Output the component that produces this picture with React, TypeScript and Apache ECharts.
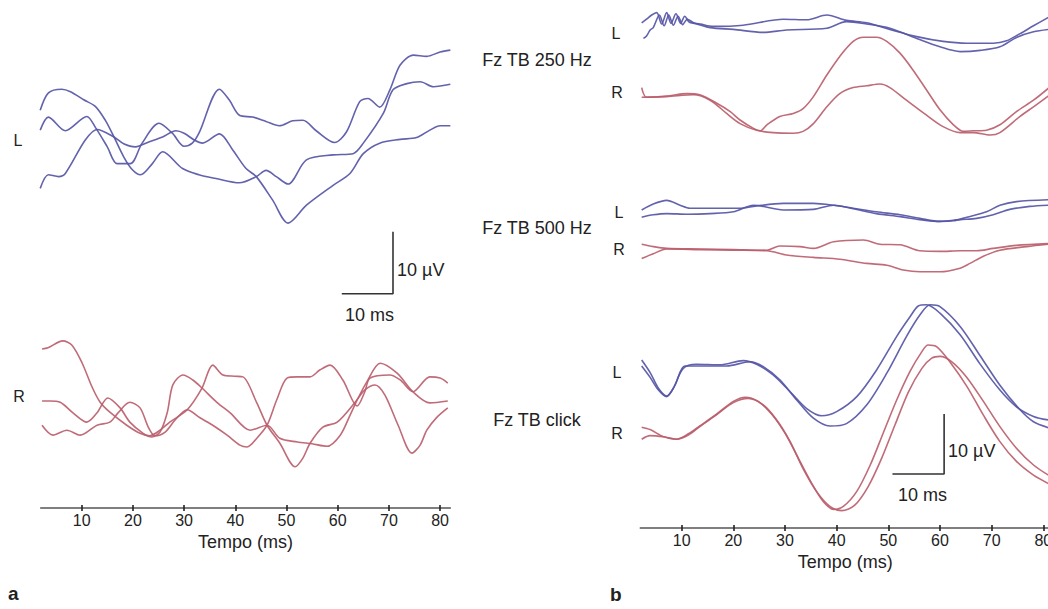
import React, { useEffect, useRef } from 'react';
import * as echarts from 'echarts';

// ---------- data (time in ms, amplitude in µV, channel baselines included) ----------
const timeTicks = [10, 20, 30, 40, 50, 60, 70, 80];

// Panel a – left ear (L), three sweeps
const aL1 = [[1.9,64.8],[3.5,67.6],[6.1,68.2],[7.8,67.8],[10.4,66.5],[12.7,65.4],[14.6,63.2],[16.3,60.5],[18.2,57.3],[19.9,55.2],[21.5,54.4],[23.8,56.2],[25.8,58.1],[29.7,55.4],[32.9,54.4],[36.2,53.8],[40.8,53.1],[44.1,54.1],[46.0,55.1],[48.0,54.1],[50.3,52.9],[53.9,56.8],[59.1,57.6],[63.0,57.8],[65.0,59.5],[68.9,64.3],[70.8,68.1],[73.5,69.1],[76.1,69.4],[78.7,68.6],[82.0,69.0]];
const aL2 = [[1.9,61.6],[3.5,63.7],[6.8,61.5],[11.0,63.8],[12.7,62.0],[15.0,58.9],[16.9,56.2],[19.5,56.2],[21.8,59.5],[25.1,62.7],[27.7,61.1],[30.0,59.0],[31.6,59.5],[32.9,61.1],[36.9,68.2],[38.8,66.5],[40.8,64.0],[43.4,63.7],[46.0,63.0],[48.6,62.3],[51.2,63.1],[53.2,63.2],[55.8,61.5],[59.4,59.6],[61.7,61.3],[64.3,66.2],[65.9,66.7],[68.2,65.3],[70.2,68.1],[72.2,72.1],[74.8,73.7],[77.4,73.5],[80.0,74.2],[82.0,74.5]];
const aL3 = [[1.9,52.2],[3.5,54.4],[5.5,54.1],[6.8,54.6],[10.7,60.0],[13.0,61.7],[16.3,60.5],[18.2,59.4],[20.5,58.9],[23.1,59.7],[25.8,60.5],[28.4,61.5],[30.0,61.1],[32.0,60.0],[33.6,59.5],[36.9,61.0],[39.5,58.4],[42.1,55.4],[44.1,54.1],[47.3,50.3],[50.3,46.6],[53.9,49.5],[59.1,52.7],[62.4,54.6],[65.0,57.8],[68.2,59.5],[72.2,60.1],[75.4,60.4],[78.0,61.6],[80.0,62.3],[82.0,62.3]];

// Panel a – right ear (R), three sweeps
const aR1 = [[2.25,26.3],[3.4,26.5],[6.3,27.6],[8.1,26.9],[10.1,24.0],[12.0,20.2],[13.6,17.7],[15.5,16.1],[18.8,14.0],[21.4,12.7],[23.3,12.3],[25.3,13.2],[27.2,14.5],[30.6,16.5],[33.5,20.0],[35.6,23.7],[37.6,22.1],[39.9,21.9],[41.5,21.8],[44.2,17.6],[46.2,14.0],[48.7,11.1],[51.7,7.3],[53.2,8.7],[54.6,11.1],[57.1,13.7],[59.9,14.5],[63.4,17.7],[65.3,19.7],[67.3,20.5],[69.2,18.9],[71.8,14.0],[74.5,9.5],[76.1,10.8],[77.4,13.2],[79.4,15.3],[81.5,16.8]];
const aR2 = [[2.25,17.9],[3.8,17.9],[5.8,17.7],[8.3,16.0],[11.0,14.5],[13.0,16.0],[15.1,18.4],[17.5,16.8],[19.4,14.5],[22.0,12.7],[23.7,12.1],[25.3,12.9],[26.7,16.0],[27.8,20.5],[29.8,22.1],[31.7,21.3],[33.5,20.0],[36.4,17.7],[39.0,16.0],[42.9,13.2],[46.2,14.0],[48.7,11.9],[52.1,11.3],[55.0,11.0],[57.9,10.6],[60.5,12.4],[62.4,15.6],[64.0,18.4],[65.7,21.0],[68.3,24.0],[71.6,22.4],[74.7,19.4],[78.0,17.6],[81.5,17.9]];
const aR3 = [[2.25,14.0],[4.4,12.4],[7.1,13.2],[9.7,12.4],[13.0,14.0],[15.5,14.5],[17.1,16.0],[19.4,17.7],[21.4,16.8],[23.0,13.7],[24.3,12.3],[26.3,12.9],[28.2,14.8],[30.6,16.5],[33.1,15.2],[35.6,14.0],[38.4,12.4],[40.9,10.8],[42.3,10.5],[44.2,11.9],[46.2,14.0],[48.1,18.1],[50.1,21.6],[52.1,21.8],[54.6,21.8],[56.5,22.9],[58.5,23.7],[61.0,21.3],[63.8,17.1],[65.3,19.4],[66.3,21.6],[70.2,22.1],[72.2,21.3],[74.7,19.4],[78.0,21.8],[80.0,21.6],[81.5,20.8]];

// Panel b – Fz TB 250 Hz
const b250L1 = [[2.26,84.2],[3.2,84.8],[4.2,85.5],[5.17,85.9],[6.13,84.0],[7.1,85.9],[7.94,84.1],[8.9,85.7],[9.8,84.1],[10.6,85.3],[11.5,84.3],[13.6,84.0],[16.1,83.6],[21.9,83.8],[29.7,84.8],[34.2,84.7],[38.1,85.5],[41.9,84.6],[45.8,84.2],[50.3,83.1],[55.5,81.9],[60.6,81.1],[65.2,80.8],[70.3,80.8],[72.9,81.2],[75.5,82.4],[78.1,83.7],[81.0,85.1]];
const b250L2 = [[2.6,81.6],[3.2,82.0],[3.9,83.0],[4.5,83.4],[5.7,85.5],[6.6,83.7],[7.5,85.5],[8.4,83.8],[9.3,85.3],[10.2,83.9],[11.1,84.8],[12.3,84.2],[15.5,83.4],[20.0,83.1],[25.8,82.6],[30.3,83.0],[38.1,83.3],[41.9,84.4],[45.8,84.0],[50.3,83.3],[55.5,81.6],[60.0,80.2],[63.9,79.4],[67.8,79.6],[71.6,80.2],[74.9,81.8],[78.1,82.7],[81.0,83.1]];
const b250R1 = [[2.26,73.4],[3.2,71.8],[7.1,72.0],[11.0,72.4],[13.5,72.2],[16.8,70.8],[19.4,69.4],[21.3,68.0],[23.9,66.6],[25.2,66.2],[26.5,67.2],[29.0,68.6],[31.6,69.1],[33.5,69.9],[35.5,71.9],[38.1,75.5],[40.6,78.6],[43.2,81.1],[45.2,81.8],[47.7,81.8],[49.7,81.1],[52.3,79.1],[54.8,76.3],[57.4,73.0],[60.0,69.7],[62.6,67.2],[64.5,66.1],[66.5,66.2],[69.0,66.3],[71.6,67.2],[74.8,69.4],[78.1,71.3],[81.0,73.3]];
const b250R2 = [[2.26,71.8],[7.1,71.9],[12.3,72.2],[15.5,71.3],[18.7,69.1],[21.3,67.4],[24.5,66.3],[27.7,65.9],[31.6,65.8],[33.5,66.1],[35.5,67.4],[38.1,70.2],[40.6,72.4],[43.2,73.4],[45.8,73.7],[48.4,74.0],[50.3,73.4],[53.5,71.3],[57.4,68.8],[60.6,66.9],[63.9,65.9],[66.5,65.9],[69.7,65.5],[71.6,65.9],[75.5,68.6],[78.1,70.2],[81.0,72.0]];

// Panel b – Fz TB 500 Hz
const b500L1 = [[2.26,53.0],[4.5,54.0],[7.1,54.6],[9.7,53.8],[11.6,53.3],[15.5,53.3],[21.3,53.3],[23.9,53.6],[29.7,54.1],[35.5,54.1],[39.4,53.8],[43.2,53.3],[47.7,52.7],[52.3,52.2],[56.1,51.6],[60.0,51.1],[62.6,51.2],[65.2,51.8],[69.0,52.7],[71.6,53.8],[74.8,54.4],[81.0,54.7]];
const b500L2 = [[2.26,51.8],[4.5,52.2],[7.1,52.4],[11.0,52.3],[15.5,52.4],[20.0,52.7],[23.9,53.8],[29.7,53.0],[35.5,53.1],[39.4,53.8],[43.2,53.2],[47.7,52.4],[52.3,51.9],[56.1,51.4],[60.0,51.1],[63.9,51.4],[67.1,51.6],[70.3,52.2],[73.5,53.1],[77.4,53.6],[81.0,53.8]];
const b500R1 = [[2.26,47.3],[4.5,46.9],[7.1,46.6],[13.5,46.5],[20.0,46.4],[26.5,46.3],[29.0,47.0],[32.9,46.9],[35.5,46.6],[39.4,47.7],[45.2,48.0],[48.4,47.3],[52.3,47.2],[56.1,46.2],[60.0,46.1],[63.9,46.2],[67.1,46.2],[70.3,46.6],[74.8,47.1],[81.0,47.4]];
const b500R2 = [[2.26,44.9],[4.5,45.7],[7.1,46.5],[13.5,46.4],[20.0,46.3],[26.5,46.2],[30.3,45.5],[35.5,45.1],[40.6,44.8],[45.8,44.1],[49.7,43.8],[52.9,43.0],[56.1,42.7],[60.0,42.7],[63.9,43.3],[65.8,44.1],[68.4,45.3],[71.6,46.3],[76.8,46.9],[81.0,47.3]];

// Panel b – Fz TB click
const bClkL1 = [[2.26,28.0],[3.9,25.9],[5.5,23.3],[7.1,22.0],[8.4,23.3],[10.3,26.6],[12.9,27.3],[17.4,27.2],[21.9,27.9],[24.5,27.3],[27.7,25.5],[31.0,22.7],[34.2,19.9],[37.1,18.7],[40.0,19.4],[43.9,21.9],[47.7,26.3],[51.6,31.9],[54.2,35.2],[55.8,37.0],[57.4,37.2],[60.0,35.8],[63.9,32.2],[67.7,27.4],[71.6,23.0],[74.8,20.2],[78.1,18.6],[81.0,18.0]];
const bClkL2 = [[2.26,27.0],[3.9,25.1],[5.5,23.0],[7.1,21.9],[8.7,23.8],[10.6,27.0],[13.5,27.0],[18.7,27.0],[23.2,27.7],[25.8,26.9],[29.0,24.7],[32.3,21.3],[35.5,18.3],[38.7,17.0],[41.9,17.4],[45.8,20.5],[49.7,25.8],[53.5,31.9],[56.1,35.5],[58.1,37.2],[60.0,36.9],[63.9,33.6],[67.7,28.8],[71.6,23.8],[75.5,19.7],[78.1,17.7],[81.0,16.7]];
const bClkR1 = [[2.26,16.8],[3.9,16.4],[6.5,15.2],[9.0,14.8],[11.3,15.7],[13.5,17.0],[16.8,19.0],[20.0,21.1],[22.3,21.8],[24.8,21.1],[27.4,19.0],[30.0,15.8],[32.6,11.6],[35.2,7.4],[37.4,4.4],[39.4,3.1],[41.3,3.6],[43.9,6.1],[46.5,10.5],[49.0,15.8],[51.6,21.3],[54.2,26.1],[56.5,29.4],[57.7,30.5],[59.4,30.2],[61.9,27.7],[65.2,23.6],[68.4,18.8],[71.6,14.4],[74.8,11.1],[78.1,8.8],[81.0,7.4]];
const bClkR2 = [[2.26,14.8],[3.9,15.4],[6.5,15.2],[9.0,14.8],[11.3,15.5],[13.5,16.9],[16.8,18.9],[20.0,20.9],[22.9,21.6],[25.8,20.5],[28.4,18.0],[31.0,14.4],[33.5,9.9],[36.1,6.1],[38.7,3.6],[41.0,2.9],[43.5,3.8],[46.1,6.9],[48.7,11.6],[51.3,17.2],[53.9,22.7],[56.5,26.6],[58.4,28.3],[60.0,28.6],[62.3,27.7],[65.2,25.1],[68.4,21.1],[71.6,16.9],[74.8,13.3],[78.1,10.5],[81.0,8.8]];

// Calibration bars: 10 ms × 10 µV (corner time, corner amplitude)
const aScaleBar = [[60.8,35.2],[70.8,35.2],[70.8,45.2]];
const bScaleBar = [[50.8,9.0],[60.8,9.0],[60.8,19.0]];

// ---------- styling ----------
const BLUE = '#5555a6';
const RED = '#bb5e6c';
const FONT = '"Liberation Sans", Arial, Helvetica, sans-serif';
const TXT = '#222';

function trace(data: number[][], color: string, grid: number) {
  return {
    type: 'line',
    xAxisIndex: grid * 2,
    yAxisIndex: grid,
    data,
    smooth: 0.3,
    symbol: 'none',
    showSymbol: false,
    silent: true,
    lineStyle: { color, width: 1.6, opacity: 0.92 },
    z: 3,
  };
}

function bar(data: number[][], grid: number) {
  return {
    type: 'line',
    xAxisIndex: grid * 2,
    yAxisIndex: grid,
    data,
    smooth: false,
    symbol: 'none',
    silent: true,
    lineStyle: { color: '#333', width: 1.6 },
    z: 4,
  };
}

function timeAxis(gridIndex: number, min: number, max: number) {
  return {
    type: 'value',
    gridIndex,
    min,
    max,
    position: 'bottom',
    axisLine: { show: true, onZero: false, lineStyle: { color: '#555', width: 1.6 } },
    axisTick: { show: true, customValues: timeTicks, length: 3, lineStyle: { color: '#222', width: 1.6 } },
    axisLabel: { customValues: timeTicks, fontSize: 16, color: TXT, fontFamily: FONT, margin: 4, hideOverlap: false },
    splitLine: { show: false },
    name: 'Tempo (ms)',
    nameLocation: 'middle',
    nameGap: 25,
    nameTextStyle: { fontSize: 18, color: TXT, fontFamily: FONT },
  };
}

function innerTicks(gridIndex: number, min: number, max: number) {
  return {
    type: 'value',
    gridIndex,
    min,
    max,
    position: 'bottom',
    axisLine: { show: false, onZero: false },
    axisTick: { show: true, inside: true, customValues: timeTicks, length: 3, lineStyle: { color: '#222', width: 1.6 } },
    axisLabel: { show: false },
    splitLine: { show: false },
  };
}

function label(text: string, x: number, y: number, size = 16, align = 'center', weight = 'normal') {
  return {
    type: 'text',
    x,
    y,
    silent: true,
    style: {
      text,
      fill: TXT,
      font: `${weight} ${size}px ${FONT}`,
      textAlign: align,
      textVerticalAlign: 'middle',
    },
  };
}

export default function App() {
  const ref = useRef<HTMLDivElement>(null);

  useEffect(() => {
    document.body.style.margin = '0';
    if (!ref.current) return;
    const chart = echarts.init(ref.current, null, { renderer: 'svg' });

    const option = {
      animation: false,
      backgroundColor: '#ffffff',
      grid: [
        { left: 40.74, width: 409.6, top: 24.4, height: 483.6, outerBoundsMode: 'none', containLabel: false },
        { left: 640.33, width: 409.7, top: 0, height: 528, outerBoundsMode: 'none', containLabel: false },
      ],
      xAxis: [
        timeAxis(0, 2, 82),
        innerTicks(0, 2, 82),
        timeAxis(1, 2, 81.3),
        innerTicks(1, 2, 81.3),
      ],
      yAxis: [
        { type: 'value', gridIndex: 0, min: 0.65, max: 78.65, show: false },
        { type: 'value', gridIndex: 1, min: 0, max: 88, show: false },
      ],
      series: [
        trace(aL1, BLUE, 0),
        trace(aL2, BLUE, 0),
        trace(aL3, BLUE, 0),
        trace(aR1, RED, 0),
        trace(aR2, RED, 0),
        trace(aR3, RED, 0),
        bar(aScaleBar, 0),
        trace(b250L1, BLUE, 1),
        trace(b250L2, BLUE, 1),
        trace(b250R1, RED, 1),
        trace(b250R2, RED, 1),
        trace(b500L1, BLUE, 1),
        trace(b500L2, BLUE, 1),
        trace(b500R1, RED, 1),
        trace(b500R2, RED, 1),
        trace(bClkL1, BLUE, 1),
        trace(bClkL2, BLUE, 1),
        trace(bClkR1, RED, 1),
        trace(bClkR2, RED, 1),
        bar(bScaleBar, 1),
      ],
      graphic: [
        label('L', 18, 140, 16),
        label('R', 19, 396, 16),
        label('10 µV', 397, 270, 18, 'left'),
        label('10 ms', 345, 315, 18, 'left'),
        label('a', 8, 593, 19, 'left', 'bold'),
        label('Fz TB 250 Hz', 537, 60, 18),
        label('Fz TB 500 Hz', 537, 228, 18),
        label('Fz TB click', 537, 420, 18),
        label('L', 616, 33, 16),
        label('R', 617, 92, 16),
        label('L', 619, 212, 16),
        label('R', 619, 249, 16),
        label('L', 617, 372, 16),
        label('R', 617, 433, 16),
        label('10 µV', 948, 451, 18, 'left'),
        label('10 ms', 898, 495, 18, 'left'),
        label('b', 610, 594, 19, 'left', 'bold'),
      ],
    };

    chart.setOption(option as any);
    return () => chart.dispose();
  }, []);

  return (
    <div
      ref={ref}
      style={{ position: 'fixed', left: 0, top: 0, width: 1048, height: 609, background: '#fff' }}
    />
  );
}
